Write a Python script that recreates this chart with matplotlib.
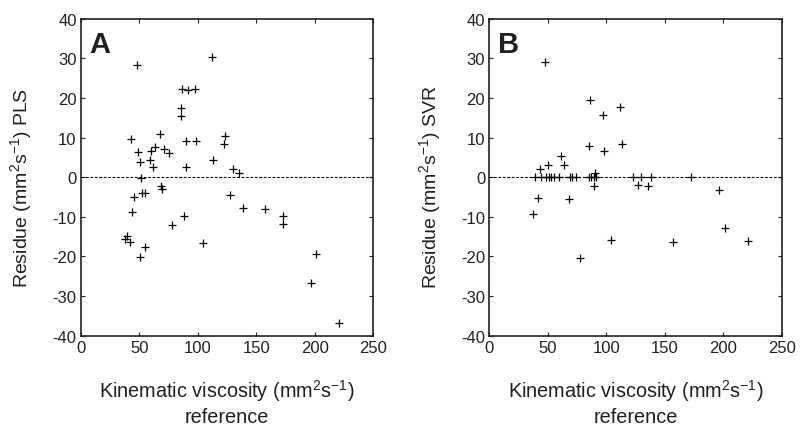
import numpy as np
import matplotlib
matplotlib.use('Agg')
import matplotlib.pyplot as plt

plt.rcParams['font.family'] = ['Liberation Sans', 'DejaVu Sans']
plt.rcParams['mathtext.default'] = 'regular'
plt.rcParams['axes.unicode_minus'] = False

# panel A: PLS residues
pls_x = [47.9, 111.7, 86.7, 91.8, 97.4, 85.2, 85.2, 43.1, 67.8, 90.1, 98.0, 123.4, 122.0,
         48.5, 50.4, 60.2, 63.6, 58.7, 61.9, 70.9, 75.0, 89.5, 113.2, 129.7, 135.0, 51.5,
         68.5, 69.3, 45.3, 51.9, 54.7, 43.9, 77.8, 87.8, 37.4, 39.7, 41.6, 55.0, 50.8,
         104.0, 127.1, 138.2, 157.3, 172.4, 172.4, 196.6, 200.9, 220.5]
pls_y = [28.3, 30.3, 22.4, 22.0, 22.4, 17.4, 15.5, 9.7, 10.9, 9.2, 9.2, 10.3, 8.4,
         6.3, 3.9, 6.7, 7.7, 4.3, 2.7, 7.2, 6.1, 2.7, 4.3, 2.0, 1.1, -0.3,
         -2.3, -3.0, -4.9, -4.0, -4.0, -8.8, -12.1, -9.8, -15.5, -14.9, -16.3, -17.7, -20.2,
         -16.5, -4.6, -7.8, -8.1, -9.8, -11.9, -26.6, -19.4, -36.7]

# panel B: SVR residues
svr_x = [47.8, 86.4, 97.5, 111.8, 84.9, 98.1, 113.0, 61.5, 63.5, 50.3, 42.9, 90.6,
         39.4, 44.1, 48.6, 50.6, 52.7, 54.9, 59.5, 69.2, 70.7, 74.4, 85.5, 87.2, 89.2,
         91.3, 123.0, 129.2, 137.8, 172.7,
         41.2, 37.2, 67.8, 77.5, 89.8, 104.1, 126.9, 135.5, 157.3, 196.7, 201.3, 220.7]
svr_y = [29.0, 19.5, 15.8, 17.7, 7.9, 6.7, 8.5, 5.3, 3.2, 3.2, 2.0, 1.0,
         0, 0, 0, 0, 0, 0, 0, 0, 0, 0, 0, 0, 0,
         0, 0, 0, 0, 0,
         -5.2, -9.3, -5.6, -20.4, -2.2, -15.8, -2.0, -2.2, -16.4, -3.1, -12.9, -16.0]

xticks = [0, 50, 100, 150, 200, 250]
yticks = [-40, -30, -20, -10, 0, 10, 20, 30, 40]

fig = plt.figure(figsize=(8.01, 4.27), dpi=100)
tc = '#231f20'
panels = [
    (0.101, pls_x, pls_y, 'A', 'Residue (mm$^2$s$^{-1}$) PLS'),
    (0.611, svr_x, svr_y, 'B', 'Residue (mm$^2$s$^{-1}$) SVR'),
]
for left, xs, ys, tag, ylab in panels:
    ax = fig.add_axes([left, 0.2115, 0.365, 0.742])
    ax.plot(xs, ys, '+', color='black', markersize=6, markeredgewidth=0.9)
    ax.axhline(0, color='black', linestyle=(0, (2.5, 1.5)), linewidth=0.8)
    ax.set_xlim(0, 250)
    ax.set_ylim(-40, 40)
    ax.set_xticks(xticks)
    ax.set_yticks(yticks)
    ax.tick_params(direction='in', top=True, right=True, labelsize=12,
                   colors=tc, length=3, width=0.8, pad=3)
    for s in ax.spines.values():
        s.set_linewidth(1.2)
        s.set_color(tc)
    ax.set_xlabel('Kinematic viscosity (mm$^2$s$^{-1}$)\nreference',
                  fontsize=14.3, color=tc, linespacing=1.25)
    ax.xaxis.set_label_coords(0.5, -0.13)
    ax.set_ylabel(ylab, fontsize=14, color=tc)
    ax.yaxis.set_label_coords(-0.16, 0.47)
    ax.text(0.03, 0.965, tag, transform=ax.transAxes, fontsize=21,
            fontweight='bold', va='top', ha='left', color=tc)

fig.savefig('out.png', dpi=100)
